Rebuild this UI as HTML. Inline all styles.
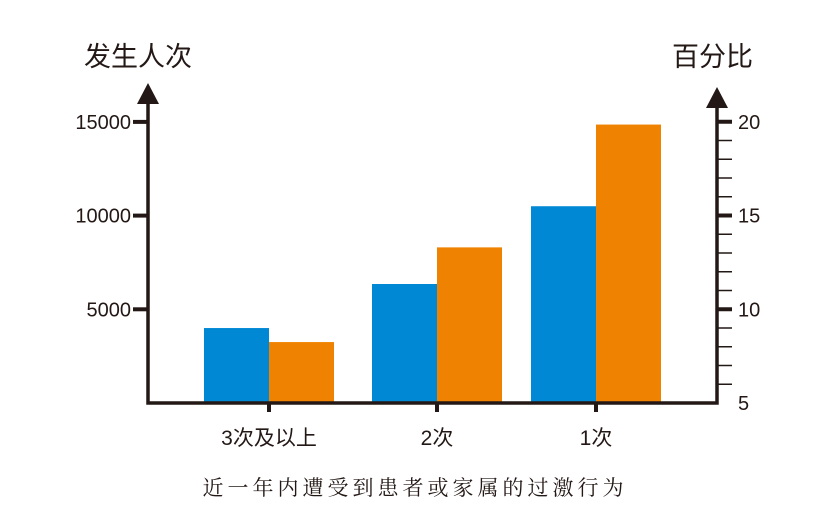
<!DOCTYPE html>
<html><head><meta charset="utf-8"><style>
html,body{margin:0;padding:0;background:#fff;}
svg{display:block;font-family:"Liberation Sans","Noto Sans CJK SC",sans-serif;}
</style></head><body>
<svg id="chart" width="840" height="522" viewBox="0 0 840 522"></svg>
<script>
const categories = ["3次及以上","2次","1次"];
const countValues = [4000, 6350, 10500];
const percentValues = [8.25, 13.3, 19.85];
const leftTicks = [5000, 10000, 15000];
const rightTicks = [5, 10, 15, 20];

const NS = "http://www.w3.org/2000/svg";
const svg = document.getElementById("chart");
const baseY = 403, leftX = 148, rightX = 717;
const yLeft = v => baseY - v / 5000 * 93.7;
const yRight = v => baseY - (v - 5) * 18.75;
const catX = [269, 437, 596];
const barW = 65;

function mk(tag, attrs, text){
  const e = document.createElementNS(NS, tag);
  for (const k in attrs) e.setAttribute(k, attrs[k]);
  if (text !== undefined) e.textContent = text;
  svg.appendChild(e);
  return e;
}

// bars
categories.forEach((c, i) => {
  const cx = catX[i];
  const b = mk("rect", {x: cx - barW, y: yLeft(countValues[i]), width: barW, height: baseY - yLeft(countValues[i]), fill: "#0088d4"});
  
  
  const o = mk("rect", {x: cx, y: yRight(percentValues[i]), width: barW, height: baseY - yRight(percentValues[i]), fill: "#ef8200"});
  
  
  const t = mk("line", {x1: cx, y1: baseY, x2: cx, y2: baseY + 9, stroke: "#231815", "stroke-width": 4});
  
  
  const l = mk("text", {x: cx, y: 445, "font-size": 21, "text-anchor": "middle", fill: "#231815"}, c);
  
  
});

// axes
const ax = mk("path", {d: `M${leftX} 100 V${baseY} H${rightX} V100`, fill: "none", stroke: "#231815", "stroke-width": 3.5});


const a1 = mk("polygon", {points: `${leftX-11},104 ${leftX+11},104 ${leftX},83`, fill: "#231815"});


const a2 = mk("polygon", {points: `${rightX-11},108 ${rightX+11},108 ${rightX},87`, fill: "#231815"});



leftTicks.forEach(v => {
  const y = yLeft(v);
  const t = mk("line", {x1: 133, y1: y, x2: leftX, y2: y, stroke: "#231815", "stroke-width": 4});
  
  
  const l = mk("text", {x: 131, y: y + 7, "font-size": 20, "text-anchor": "end", fill: "#231815"}, String(v));
  
  
});
for (let v = 6; v <= 20; v++) {
  const y = yRight(v);
  const major = v % 5 === 0;
  const t = mk("line", {x1: rightX, y1: y, x2: 732, y2: y, stroke: "#231815", "stroke-width": major ? 4 : 1.5});
  
  
}
rightTicks.forEach(v => {
  const y = yRight(v);
  const l = mk("text", {x: 738, y: y + 7, "font-size": 20, fill: "#231815"}, String(v));
  
  
});

const lt = mk("text", {x: 84, y: 66, "font-size": 27, fill: "#231815"}, "发生人次");


const rt = mk("text", {x: 672, y: 66, "font-size": 27, fill: "#231815"}, "百分比");


const ct = mk("text", {x: 415, y: 495, "font-size": 21, "text-anchor": "middle", "letter-spacing": 4, fill: "#231815", "font-family": "'Noto Serif CJK SC',serif"}, "近一年内遭受到患者或家属的过激行为");


</script>
</body></html>
